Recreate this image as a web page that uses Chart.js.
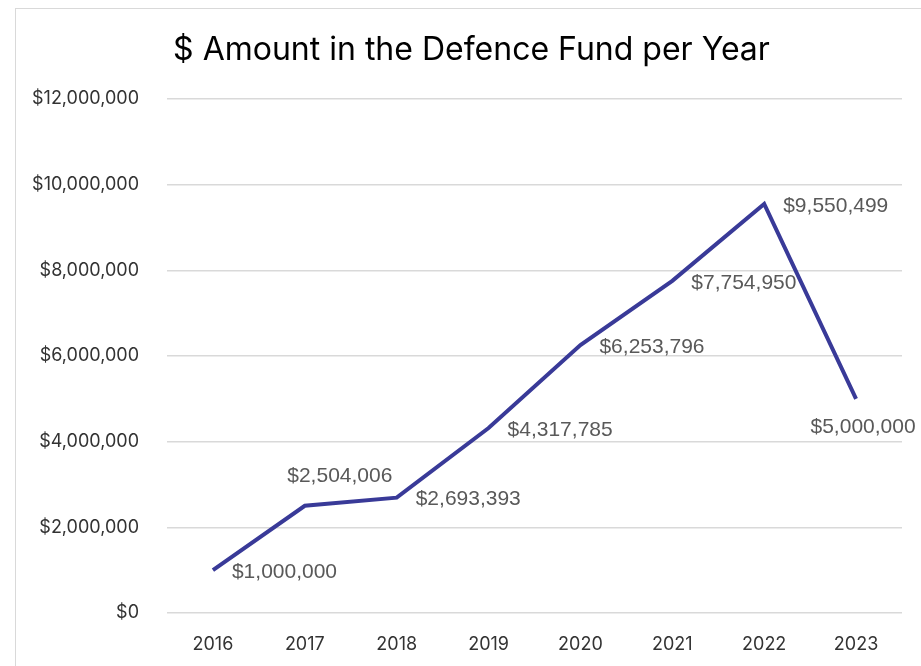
<!DOCTYPE html>
<html>
<head>
<meta charset="utf-8">
<script src="https://cdn.jsdelivr.net/npm/chart.js@4"></script>
<style>
  html, body { margin: 0; padding: 0; background: #fff; }
  #frame { position: absolute; left: 15px; top: 8px; width: 1000px; height: 700px; border: 1.5px solid #d9d9d9; }
  #wrap { position: absolute; left: 0; top: 0; width: 921px; height: 666px; }
</style>
</head>
<body>
<div id="frame"></div>
<div id="wrap"><canvas id="fundChart" width="921" height="666"></canvas></div>
<script>
// chart data
const years = ["2016", "2017", "2018", "2019", "2020", "2021", "2022", "2023"];
const fundAmounts = [1000000, 2504006, 2693393, 4317785, 6253796, 7754950, 9550499, 5000000];
const yTickMax = 12000000;
const yTickStep = 2000000;
const chartTitle = "$ Amount in the Defence Fund per Year";

function money(v) {
    return "$" + Math.round(v).toLocaleString("en-US");
}

// small label plugin (no datalabels lib here)
const pointLabels = {
    id: "pointLabels",
    afterDatasetsDraw(chart, args, opts) {
        const ctx = chart.ctx;
        const meta = chart.getDatasetMeta(0);
        ctx.save();
        ctx.font = opts.font;
        ctx.fillStyle = opts.color;
        ctx.textBaseline = "middle";
        meta.data.forEach((pt, i) => {
            const place = opts.place[i] || "right";
            const txt = money(chart.data.datasets[0].data[i]);
            if (place === "above") {
                ctx.textAlign = "center";
                ctx.fillText(txt, pt.x + 35, pt.y - 30);
            } else if (place === "below") {
                ctx.textAlign = "center";
                ctx.fillText(txt, pt.x + 7, pt.y + 28);
            } else {
                ctx.textAlign = "left";
                ctx.fillText(txt, pt.x + 19, pt.y + 2);
            }
        });
        ctx.restore();
    }
};

// title drawn by hand, it sits a bit right of centre
const offsetTitle = {
    id: "offsetTitle",
    afterDraw(chart, args, opts) {
        const ctx = chart.ctx;
        ctx.save();
        ctx.font = opts.font;
        ctx.fillStyle = opts.color;
        ctx.textAlign = "center";
        ctx.textBaseline = "middle";
        ctx.fillText(opts.text, chart.width / 2 + opts.shift, opts.y);
        ctx.restore();
    }
};

const ctx = document.getElementById("fundChart").getContext("2d");
const fundChart = new Chart(ctx, {
    type: "line",
    data: {
        labels: years,
        datasets: [{
            label: "Defence Fund",
            data: fundAmounts,
            borderColor: "#393a98",
            borderWidth: 4,
            pointRadius: 0,
            tension: 0,
            fill: false
        }]
    },
    options: {
        responsive: false,
        animation: false,
        layout: { padding: { left: 0, right: 19, top: 99, bottom: 0 } },
        plugins: {
            legend: { display: false },
            tooltip: { enabled: false },
            title: { display: false },
            offsetTitle: {
                text: chartTitle,
                font: "32px Inter",
                color: "#000",
                shift: 11,
                y: 50
            },
            pointLabels: {
                font: "21px 'Liberation Sans'",
                color: "#595959",
                place: ["right", "above", "right", "right", "right", "right", "right", "below"]
            }
        },
        scales: {
            x: {
                offset: true,
                grid: { display: false, drawTicks: false },
                border: { display: false },
                ticks: { color: "#333", padding: 21, font: { family: "Inter", size: 18 } },
                afterFit(scale) { scale.height = 53; }
            },
            y: {
                min: 0,
                max: yTickMax,
                grid: { color: "#d9d9d9", lineWidth: 1.5, drawTicks: false },
                border: { display: false },
                ticks: {
                    stepSize: yTickStep,
                    color: "#333",
                    padding: 28,
                    font: { family: "Inter", size: 18 },
                    callback: v => money(v)
                },
                afterFit(scale) { scale.width = 167; }
            }
        }
    },
    plugins: [pointLabels, offsetTitle]
});
</script>
</body>
</html>
